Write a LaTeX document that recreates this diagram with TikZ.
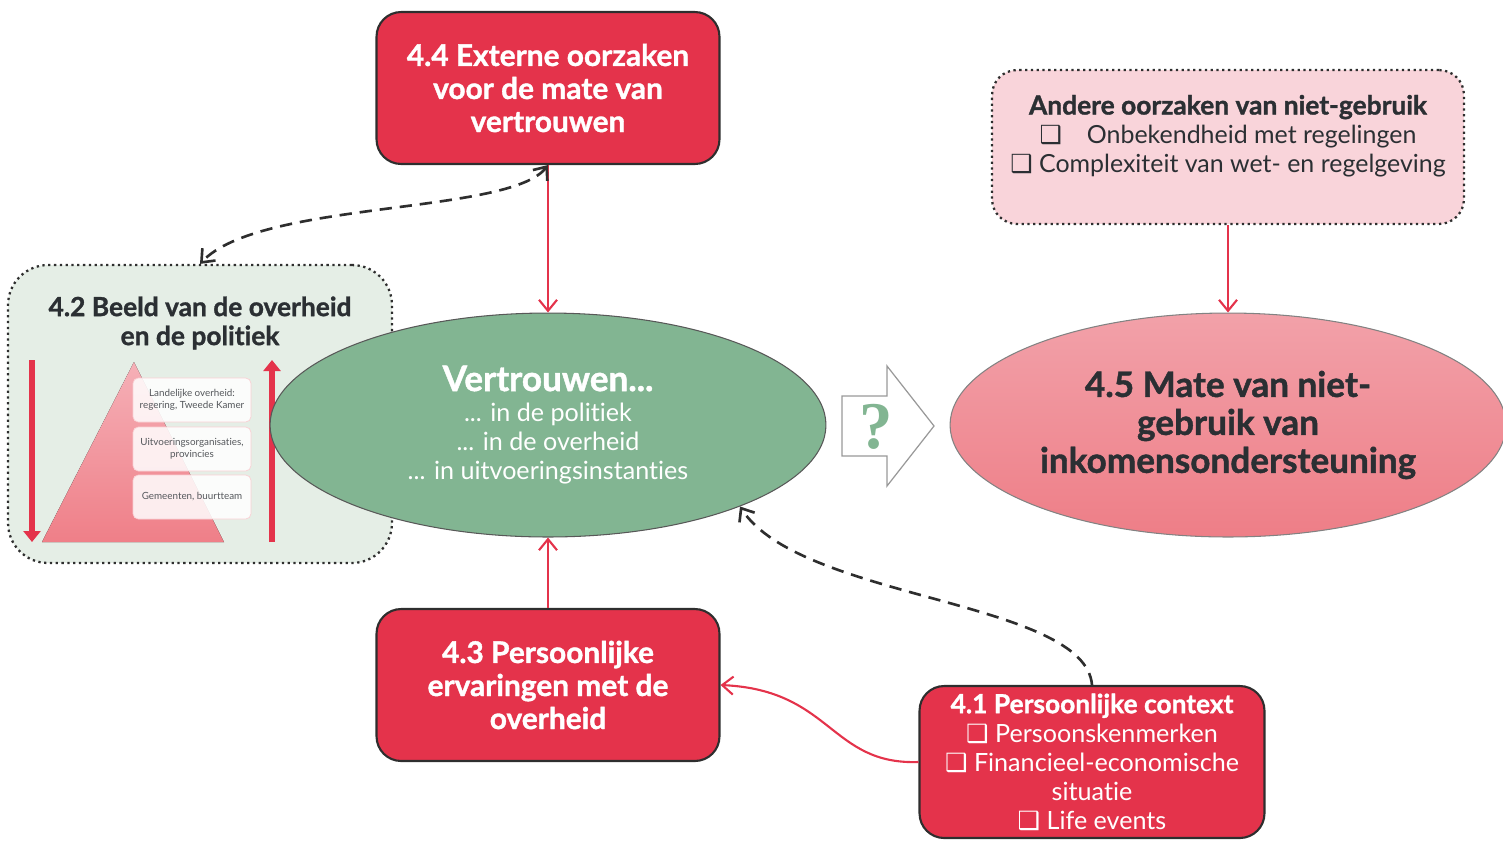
\documentclass[tikz,border=0pt]{standalone}
\usepackage{fontspec}
\setmainfont{Lato}[Ligatures=NoCommon, BoldFeatures={FakeBold=1.2}]
\newfontfamily\symfont{DejaVu Sans}
\newfontfamily\qfont{Liberation Serif}
\usetikzlibrary{shapes.geometric,arrows.meta}
\definecolor{vred}{HTML}{E4334B}
\definecolor{vgreen}{HTML}{82B592}
\definecolor{darktxt}{HTML}{2B2F33}
\definecolor{boxline}{HTML}{2E2E2E}
\definecolor{paleblue}{HTML}{E5EEE6}
\definecolor{palepink}{HTML}{F9D4DA}
\definecolor{pinktop}{HTML}{F2A1A9}
\definecolor{pinkbot}{HTML}{EE7E87}
\definecolor{pyrtop}{HTML}{F5B0B7}
\definecolor{pyrbot}{HTML}{EF7F88}
\newcommand{\cbox}{{\symfont\char"2751}}

\begin{document}
\begin{tikzpicture}[x=0.02cm, y=-0.02cm,
    >={Straight Barb[length=2.2mm,width=3.6mm]},
    redbox/.style={draw=boxline, line width=1.2pt, fill=vred, rounded corners=14pt,
      minimum width=6.86cm, minimum height=3.04cm, text=white, align=center},
    dotbox/.style={draw=boxline, line width=1.3pt, dotted, inner sep=0pt},
    bigoval/.style={ellipse, draw=boxline!80, line width=0.6pt, minimum width=11.12cm,
      minimum height=4.48cm, inner sep=0pt, align=center},
    levelbox/.style={draw=pyrtop!60, line width=0.4pt, fill=white, fill opacity=0.85,
      text opacity=1, rounded corners=3pt, minimum width=2.36cm, minimum height=0.88cm,
      align=center, text=darktxt!80, font=\fontsize{5.6}{6.6}\selectfont},
    redarrow/.style={->, draw=vred, line width=1.2pt},
    dasharrow/.style={draw=boxline, line width=1.5pt, dash pattern=on 7pt off 4.5pt},
    fatarrow/.style={-{Triangle[length=2.2mm,width=3.4mm]}, draw=vred, line width=3.4pt}
  ]
  \useasboundingbox (0,0) rectangle (1503,840);

  % 4.2 with the pyramid of levels
  \node[dotbox, fill=paleblue, rounded corners=0.8cm, minimum width=7.68cm,
    minimum height=5.96cm] (b42) at (200,414) {};
  \node[align=center, text=darktxt, font=\bfseries\fontsize{15}{16.5}\selectfont]
    (b42title) at (200,323) {4.2 Beeld van de overheid\\en de politiek};
  \fill[top color=pyrtop, bottom color=pyrbot] (134,362) -- (224,542) -- (42,542) -- cycle;
  \node[levelbox] (lvl1) at (192,400) {Landelijke overheid:\\regering, Tweede Kamer};
  \node[levelbox] (lvl2) at (192,449) {Uitvoeringsorganisaties,\\provincies};
  \node[levelbox] (lvl3) at (192,497) {Gemeenten, buurtteam};
  \coordinate (downtop) at (32,360);
  \coordinate (downbot) at (32,542);
  \coordinate (uptop) at (272,360);
  \coordinate (upbot) at (272,542);
  \draw[fatarrow] (downtop) -- (downbot);
  \draw[fatarrow] (upbot) -- (uptop);

  % boxes and ovals
  \node[redbox, font=\bfseries\fontsize{17}{18.8}\selectfont] (b44) at (548,88)
    {4.4 Externe oorzaken\\voor de mate van\\vertrouwen};
  \node[redbox, font=\bfseries\fontsize{17}{18.8}\selectfont] (b43) at (548,685)
    {4.3 Persoonlijke\\ervaringen met de\\overheid};
  \node[redbox, minimum width=6.9cm, font=\fontsize{14.3}{16.5}\selectfont] (b41) at (1092,762)
    {\textbf{\fontsize{15}{16.5}\selectfont 4.1 Persoonlijke context}\\\cbox{} Persoonskenmerken\\\cbox{} Financieel-economische\\situatie\\\cbox{} Life events};
  \node[bigoval, fill=vgreen, text=white, font=\fontsize{14.3}{16.5}\selectfont] (trust) at (548,425)
    {\textbf{\fontsize{20}{21}\selectfont Vertrouwen...}\\[1pt]
     ... in de politiek\\... in de overheid\\... in uitvoeringsinstanties};
  \node[bigoval, top color=pinktop, bottom color=pinkbot, draw=boxline!60, text=darktxt,
    font=\bfseries\fontsize{20}{21.6}\selectfont] (nonuse) at (1228,425)
    {4.5 Mate van niet-\\gebruik van\\inkomensondersteuning};
  \node[dotbox, fill=palepink, rounded corners=0.5cm, minimum width=9.44cm,
    minimum height=3.08cm] (andere) at (1228,147) {};
  \node[align=center, text=darktxt, font=\fontsize{14.2}{16.5}\selectfont] (anderetxt) at (1228,136)
    {\textbf{\fontsize{15}{16.5}\selectfont Andere oorzaken van niet-gebruik}\\
     \cbox{}\quad Onbekendheid met regelingen\\\cbox{} Complexiteit van wet- en regelgeving};

  % block arrow with question mark
  \draw[draw=gray!80, line width=0.7pt, fill=white]
    (842,396) -- (887,396) -- (887,366) -- (934,426) -- (887,486) -- (887,456) -- (842,456) -- cycle;
  \node[text=vgreen, font=\qfont\bfseries\fontsize{38}{40}\selectfont] (qmark) at (876,427) {?};

  % connectors
  \draw[redarrow] (b44.south) -- (trust.north);
  \draw[redarrow] (b43.north) -- (trust.south);
  \draw[redarrow] (andere.south) -- (nonuse.north);
  \draw[redarrow] (b41.west) .. controls (830,765) and (832,690) .. (b43.east);
  \draw[dasharrow, <->] (b44.south) .. controls (510,215) and (260,200) .. (b42.north);
  \draw[dasharrow, ->] (b41.north) .. controls (1085,600) and (800,600) .. (trust.-23);
\end{tikzpicture}
\end{document}
